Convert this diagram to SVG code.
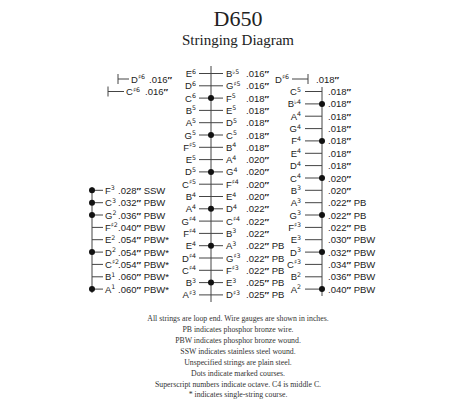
<svg xmlns="http://www.w3.org/2000/svg" width="476" height="400" viewBox="0 0 476 400">
<style>
.t{font-family:"Liberation Serif","Times New Roman",serif;fill:#222;text-anchor:middle}
.n{font-family:"Liberation Sans",Arial,sans-serif;font-size:9.5px;fill:#222}
.e{text-anchor:end}
.s{font-size:6.3px;font-family:"DejaVu Sans","Liberation Sans",sans-serif}
.q{font-weight:bold}
.ln{stroke:#444;stroke-width:1;fill:none}
.d{fill:#111}
.note{font-family:"Liberation Serif","Times New Roman",serif;font-size:7.8px;fill:#333;text-anchor:middle}
</style>
<rect width="476" height="400" fill="#fff"/>
<text class="t" x="238" y="26" font-size="22">D650</text>
<text class="t" x="238" y="45" font-size="15">Stringing Diagram</text>

<g id="connectors">
<line class="ln" x1="211" y1="66" x2="211" y2="302"/>
<line class="ln" x1="322" y1="87" x2="322" y2="296"/>
<line class="ln" x1="92" y1="187" x2="92" y2="293"/>
<line class="ln" x1="308" y1="74" x2="308" y2="84"/>
<line class="ln" x1="292" y1="79" x2="308" y2="79"/>
<line class="ln" x1="118" y1="74" x2="118" y2="84"/>
<line class="ln" x1="118" y1="79" x2="129" y2="79"/>
<line class="ln" x1="108" y1="86.5" x2="108" y2="96.5"/>
<line class="ln" x1="108" y1="91.5" x2="124" y2="91.5"/>
</g>

<g id="center">
<g id="c-E6"><line class="ln" x1="199" y1="73.5" x2="223" y2="73.5"/><text class="n e" x="196" y="77">E<tspan class="s" dy="-3.5">6</tspan></text><text class="n" x="226" y="77">B<tspan class="s" dy="-3.5">♭5</tspan></text><text class="n" x="246" y="77">.016<tspan class="q">″</tspan></text></g>
<g id="c-D6"><line class="ln" x1="199" y1="85.8" x2="223" y2="85.8"/><text class="n e" x="196" y="89.3">D<tspan class="s" dy="-3.5">6</tspan></text><text class="n" x="226" y="89.3">G<tspan class="s" dy="-3.5">♯5</tspan></text><text class="n" x="246" y="89.3">.016<tspan class="q">″</tspan></text></g>
<g id="c-C6"><line class="ln" x1="199" y1="98.1" x2="223" y2="98.1"/><circle class="d" cx="211" cy="98.1" r="3"/><text class="n e" x="196" y="101.6">C<tspan class="s" dy="-3.5">6</tspan></text><text class="n" x="226" y="101.6">F<tspan class="s" dy="-3.5">5</tspan></text><text class="n" x="246" y="101.6">.018<tspan class="q">″</tspan></text></g>
<g id="c-B5"><line class="ln" x1="199" y1="110.4" x2="223" y2="110.4"/><text class="n e" x="196" y="113.9">B<tspan class="s" dy="-3.5">5</tspan></text><text class="n" x="226" y="113.9">E<tspan class="s" dy="-3.5">5</tspan></text><text class="n" x="246" y="113.9">.018<tspan class="q">″</tspan></text></g>
<g id="c-A5"><line class="ln" x1="199" y1="122.7" x2="223" y2="122.7"/><text class="n e" x="196" y="126.2">A<tspan class="s" dy="-3.5">5</tspan></text><text class="n" x="226" y="126.2">D<tspan class="s" dy="-3.5">5</tspan></text><text class="n" x="246" y="126.2">.018<tspan class="q">″</tspan></text></g>
<g id="c-G5"><line class="ln" x1="199" y1="135" x2="223" y2="135"/><circle class="d" cx="211" cy="135" r="3"/><text class="n e" x="196" y="138.5">G<tspan class="s" dy="-3.5">5</tspan></text><text class="n" x="226" y="138.5">C<tspan class="s" dy="-3.5">5</tspan></text><text class="n" x="246" y="138.5">.018<tspan class="q">″</tspan></text></g>
<g id="c-Fs5"><line class="ln" x1="199" y1="147.3" x2="223" y2="147.3"/><text class="n e" x="196" y="150.8">F<tspan class="s" dy="-3.5">♯5</tspan></text><text class="n" x="226" y="150.8">B<tspan class="s" dy="-3.5">4</tspan></text><text class="n" x="246" y="150.8">.018<tspan class="q">″</tspan></text></g>
<g id="c-E5"><line class="ln" x1="199" y1="159.6" x2="223" y2="159.6"/><text class="n e" x="196" y="163.1">E<tspan class="s" dy="-3.5">5</tspan></text><text class="n" x="226" y="163.1">A<tspan class="s" dy="-3.5">4</tspan></text><text class="n" x="246" y="163.1">.020<tspan class="q">″</tspan></text></g>
<g id="c-D5"><line class="ln" x1="199" y1="171.9" x2="223" y2="171.9"/><circle class="d" cx="211" cy="171.9" r="3"/><text class="n e" x="196" y="175.4">D<tspan class="s" dy="-3.5">5</tspan></text><text class="n" x="226" y="175.4">G<tspan class="s" dy="-3.5">4</tspan></text><text class="n" x="246" y="175.4">.020<tspan class="q">″</tspan></text></g>
<g id="c-Cs5"><line class="ln" x1="199" y1="184.2" x2="223" y2="184.2"/><text class="n e" x="196" y="187.7">C<tspan class="s" dy="-3.5">♯5</tspan></text><text class="n" x="226" y="187.7">F<tspan class="s" dy="-3.5">♯4</tspan></text><text class="n" x="246" y="187.7">.020<tspan class="q">″</tspan></text></g>
<g id="c-B4"><line class="ln" x1="199" y1="196.5" x2="223" y2="196.5"/><text class="n e" x="196" y="200">B<tspan class="s" dy="-3.5">4</tspan></text><text class="n" x="226" y="200">E<tspan class="s" dy="-3.5">4</tspan></text><text class="n" x="246" y="200">.020<tspan class="q">″</tspan></text></g>
<g id="c-A4"><line class="ln" x1="199" y1="208.8" x2="223" y2="208.8"/><circle class="d" cx="211" cy="208.8" r="3"/><text class="n e" x="196" y="212.3">A<tspan class="s" dy="-3.5">4</tspan></text><text class="n" x="226" y="212.3">D<tspan class="s" dy="-3.5">4</tspan></text><text class="n" x="246" y="212.3">.022<tspan class="q">″</tspan></text></g>
<g id="c-Gs4"><line class="ln" x1="199" y1="221.1" x2="223" y2="221.1"/><text class="n e" x="196" y="224.6">G<tspan class="s" dy="-3.5">♯4</tspan></text><text class="n" x="226" y="224.6">C<tspan class="s" dy="-3.5">♯4</tspan></text><text class="n" x="246" y="224.6">.022<tspan class="q">″</tspan></text></g>
<g id="c-Fs4"><line class="ln" x1="199" y1="233.4" x2="223" y2="233.4"/><text class="n e" x="196" y="236.9">F<tspan class="s" dy="-3.5">♯4</tspan></text><text class="n" x="226" y="236.9">B<tspan class="s" dy="-3.5">3</tspan></text><text class="n" x="246" y="236.9">.022<tspan class="q">″</tspan></text></g>
<g id="c-E4"><line class="ln" x1="199" y1="245.7" x2="223" y2="245.7"/><circle class="d" cx="211" cy="245.7" r="3"/><text class="n e" x="196" y="249.2">E<tspan class="s" dy="-3.5">4</tspan></text><text class="n" x="226" y="249.2">A<tspan class="s" dy="-3.5">3</tspan></text><text class="n" x="246" y="249.2">.022<tspan class="q">″</tspan> PB</text></g>
<g id="c-Ds4"><line class="ln" x1="199" y1="258" x2="223" y2="258"/><text class="n e" x="196" y="261.5">D<tspan class="s" dy="-3.5">♯4</tspan></text><text class="n" x="226" y="261.5">G<tspan class="s" dy="-3.5">♯3</tspan></text><text class="n" x="246" y="261.5">.022<tspan class="q">″</tspan> PB</text></g>
<g id="c-Cs4"><line class="ln" x1="199" y1="270.3" x2="223" y2="270.3"/><text class="n e" x="196" y="273.8">C<tspan class="s" dy="-3.5">♯4</tspan></text><text class="n" x="226" y="273.8">F<tspan class="s" dy="-3.5">♯3</tspan></text><text class="n" x="246" y="273.8">.022<tspan class="q">″</tspan> PB</text></g>
<g id="c-B3"><line class="ln" x1="199" y1="282.6" x2="223" y2="282.6"/><circle class="d" cx="211" cy="282.6" r="3"/><text class="n e" x="196" y="286.1">B<tspan class="s" dy="-3.5">3</tspan></text><text class="n" x="226" y="286.1">E<tspan class="s" dy="-3.5">3</tspan></text><text class="n" x="246" y="286.1">.025<tspan class="q">″</tspan> PB</text></g>
<g id="c-As3"><line class="ln" x1="199" y1="294.9" x2="223" y2="294.9"/><text class="n e" x="196" y="298.4">A<tspan class="s" dy="-3.5">♯3</tspan></text><text class="n" x="226" y="298.4">D<tspan class="s" dy="-3.5">♯3</tspan></text><text class="n" x="246" y="298.4">.025<tspan class="q">″</tspan> PB</text></g>
</g>

<g id="topleft">
<g id="tl-Ds6"><text class="n" x="131" y="82.5">D<tspan class="s" dy="-3.5">♯6</tspan></text><text class="n" x="149" y="82.5">.016<tspan class="q">″</tspan></text></g>
<g id="tl-Cs6"><text class="n" x="126" y="95">C<tspan class="s" dy="-3.5">♯6</tspan></text><text class="n" x="145" y="95">.016<tspan class="q">″</tspan></text></g>
</g>

<g id="right">
<g id="r-Ds6"><text class="n e" x="289" y="82.5">D<tspan class="s" dy="-3.5">♯6</tspan></text><text class="n" x="316" y="82.5">.018<tspan class="q">″</tspan></text></g>
<g id="r-C5"><line class="ln" x1="305" y1="91.5" x2="322" y2="91.5"/><text class="n e" x="301" y="95">C<tspan class="s" dy="-3.5">5</tspan></text><text class="n" x="328" y="95">.018<tspan class="q">″</tspan></text></g>
<g id="r-Bb4"><line class="ln" x1="305" y1="103.9" x2="322" y2="103.9"/><circle class="d" cx="322" cy="103.9" r="3"/><text class="n e" x="301" y="107.4">B<tspan class="s" dy="-3.5">♭4</tspan></text><text class="n" x="328" y="107.4">.018<tspan class="q">″</tspan></text></g>
<g id="r-A4"><line class="ln" x1="305" y1="116.2" x2="322" y2="116.2"/><text class="n e" x="301" y="119.7">A<tspan class="s" dy="-3.5">4</tspan></text><text class="n" x="328" y="119.7">.018<tspan class="q">″</tspan></text></g>
<g id="r-G4"><line class="ln" x1="305" y1="128.6" x2="322" y2="128.6"/><text class="n e" x="301" y="132.1">G<tspan class="s" dy="-3.5">4</tspan></text><text class="n" x="328" y="132.1">.018<tspan class="q">″</tspan></text></g>
<g id="r-F4"><line class="ln" x1="305" y1="140.9" x2="322" y2="140.9"/><circle class="d" cx="322" cy="140.9" r="3"/><text class="n e" x="301" y="144.4">F<tspan class="s" dy="-3.5">4</tspan></text><text class="n" x="328" y="144.4">.018<tspan class="q">″</tspan></text></g>
<g id="r-E4"><line class="ln" x1="305" y1="153.3" x2="322" y2="153.3"/><text class="n e" x="301" y="156.8">E<tspan class="s" dy="-3.5">4</tspan></text><text class="n" x="328" y="156.8">.018<tspan class="q">″</tspan></text></g>
<g id="r-D4"><line class="ln" x1="305" y1="165.6" x2="322" y2="165.6"/><text class="n e" x="301" y="169.1">D<tspan class="s" dy="-3.5">4</tspan></text><text class="n" x="328" y="169.1">.018<tspan class="q">″</tspan></text></g>
<g id="r-C4"><line class="ln" x1="305" y1="178" x2="322" y2="178"/><circle class="d" cx="322" cy="178" r="3"/><text class="n e" x="301" y="181.5">C<tspan class="s" dy="-3.5">4</tspan></text><text class="n" x="328" y="181.5">.020<tspan class="q">″</tspan></text></g>
<g id="r-B3"><line class="ln" x1="305" y1="190.3" x2="322" y2="190.3"/><text class="n e" x="301" y="193.8">B<tspan class="s" dy="-3.5">3</tspan></text><text class="n" x="328" y="193.8">.020<tspan class="q">″</tspan></text></g>
<g id="r-A3"><line class="ln" x1="305" y1="202.7" x2="322" y2="202.7"/><text class="n e" x="301" y="206.2">A<tspan class="s" dy="-3.5">3</tspan></text><text class="n" x="328" y="206.2">.022<tspan class="q">″</tspan> PB</text></g>
<g id="r-G3"><line class="ln" x1="305" y1="215" x2="322" y2="215"/><circle class="d" cx="322" cy="215" r="3"/><text class="n e" x="301" y="218.5">G<tspan class="s" dy="-3.5">3</tspan></text><text class="n" x="328" y="218.5">.022<tspan class="q">″</tspan> PB</text></g>
<g id="r-Fs3"><line class="ln" x1="305" y1="227.4" x2="322" y2="227.4"/><text class="n e" x="301" y="230.9">F<tspan class="s" dy="-3.5">♯3</tspan></text><text class="n" x="328" y="230.9">.022<tspan class="q">″</tspan> PB</text></g>
<g id="r-E3"><line class="ln" x1="305" y1="239.7" x2="322" y2="239.7"/><text class="n e" x="301" y="243.2">E<tspan class="s" dy="-3.5">3</tspan></text><text class="n" x="328" y="243.2">.030<tspan class="q">″</tspan> PBW</text></g>
<g id="r-D3"><line class="ln" x1="305" y1="252.1" x2="322" y2="252.1"/><circle class="d" cx="322" cy="252.1" r="3"/><text class="n e" x="301" y="255.6">D<tspan class="s" dy="-3.5">3</tspan></text><text class="n" x="328" y="255.6">.032<tspan class="q">″</tspan> PBW</text></g>
<g id="r-Cs3"><line class="ln" x1="305" y1="264.4" x2="322" y2="264.4"/><text class="n e" x="301" y="267.9">C<tspan class="s" dy="-3.5">♯3</tspan></text><text class="n" x="328" y="267.9">.034<tspan class="q">″</tspan> PBW</text></g>
<g id="r-B2"><line class="ln" x1="305" y1="276.8" x2="322" y2="276.8"/><text class="n e" x="301" y="280.3">B<tspan class="s" dy="-3.5">2</tspan></text><text class="n" x="328" y="280.3">.036<tspan class="q">″</tspan> PBW</text></g>
<g id="r-A2"><line class="ln" x1="305" y1="289.1" x2="322" y2="289.1"/><circle class="d" cx="322" cy="289.1" r="3"/><text class="n e" x="301" y="292.6">A<tspan class="s" dy="-3.5">2</tspan></text><text class="n" x="328" y="292.6">.040<tspan class="q">″</tspan> PBW</text></g>
</g>

<g id="left">
<g id="l-F3"><line class="ln" x1="92" y1="190.3" x2="103" y2="190.3"/><circle class="d" cx="92" cy="190.3" r="3"/><text class="n" x="105" y="193.8">F<tspan class="s" dy="-3.5">3</tspan></text><text class="n" x="118" y="193.8">.028<tspan class="q">″</tspan> SSW</text></g>
<g id="l-C3"><line class="ln" x1="92" y1="202.7" x2="103" y2="202.7"/><circle class="d" cx="92" cy="202.7" r="3"/><text class="n" x="105" y="206.2">C<tspan class="s" dy="-3.5">3</tspan></text><text class="n" x="118" y="206.2">.032<tspan class="q">″</tspan> PBW</text></g>
<g id="l-G2"><line class="ln" x1="92" y1="215" x2="103" y2="215"/><circle class="d" cx="92" cy="215" r="3"/><text class="n" x="105" y="218.5">G<tspan class="s" dy="-3.5">2</tspan></text><text class="n" x="118" y="218.5">.036<tspan class="q">″</tspan> PBW</text></g>
<g id="l-Fs2"><line class="ln" x1="92" y1="227.4" x2="103" y2="227.4"/><text class="n" x="105" y="230.9">F<tspan class="s" dy="-3.5">♯2</tspan></text><text class="n" x="118" y="230.9">.040<tspan class="q">″</tspan> PBW</text></g>
<g id="l-E2"><line class="ln" x1="92" y1="239.7" x2="103" y2="239.7"/><text class="n" x="105" y="243.2">E<tspan class="s" dy="-3.5">2</tspan></text><text class="n" x="118" y="243.2">.054<tspan class="q">″</tspan> PBW*</text></g>
<g id="l-D2"><line class="ln" x1="92" y1="252.1" x2="103" y2="252.1"/><circle class="d" cx="92" cy="252.1" r="3"/><text class="n" x="105" y="255.6">D<tspan class="s" dy="-3.5">2</tspan></text><text class="n" x="118" y="255.6">.054<tspan class="q">″</tspan> PBW*</text></g>
<g id="l-Cs2"><line class="ln" x1="92" y1="264.4" x2="103" y2="264.4"/><text class="n" x="105" y="267.9">C<tspan class="s" dy="-3.5">♯2</tspan></text><text class="n" x="118" y="267.9">.054<tspan class="q">″</tspan> PBW*</text></g>
<g id="l-B1"><line class="ln" x1="92" y1="276.8" x2="103" y2="276.8"/><text class="n" x="105" y="280.3">B<tspan class="s" dy="-3.5">1</tspan></text><text class="n" x="118" y="280.3">.060<tspan class="q">″</tspan> PBW*</text></g>
<g id="l-A1"><line class="ln" x1="92" y1="289.1" x2="103" y2="289.1"/><circle class="d" cx="92" cy="289.1" r="3"/><text class="n" x="105" y="292.6">A<tspan class="s" dy="-3.5">1</tspan></text><text class="n" x="118" y="292.6">.060<tspan class="q">″</tspan> PBW*</text></g>
</g>

<g id="notes">
<text class="note" x="238" y="321">All strings are loop end. Wire gauges are shown in inches.</text>
<text class="note" x="238" y="332">PB indicates phosphor bronze wire.</text>
<text class="note" x="238" y="343">PBW indicates phosphor bronze wound.</text>
<text class="note" x="238" y="354">SSW indicates stainless steel wound.</text>
<text class="note" x="238" y="365">Unspecified strings are plain steel.</text>
<text class="note" x="238" y="376">Dots indicate marked courses.</text>
<text class="note" x="238" y="387">Superscript numbers indicate octave. C4 is middle C.</text>
<text class="note" x="238" y="397">* indicates single-string course.</text>
</g>
</svg>
